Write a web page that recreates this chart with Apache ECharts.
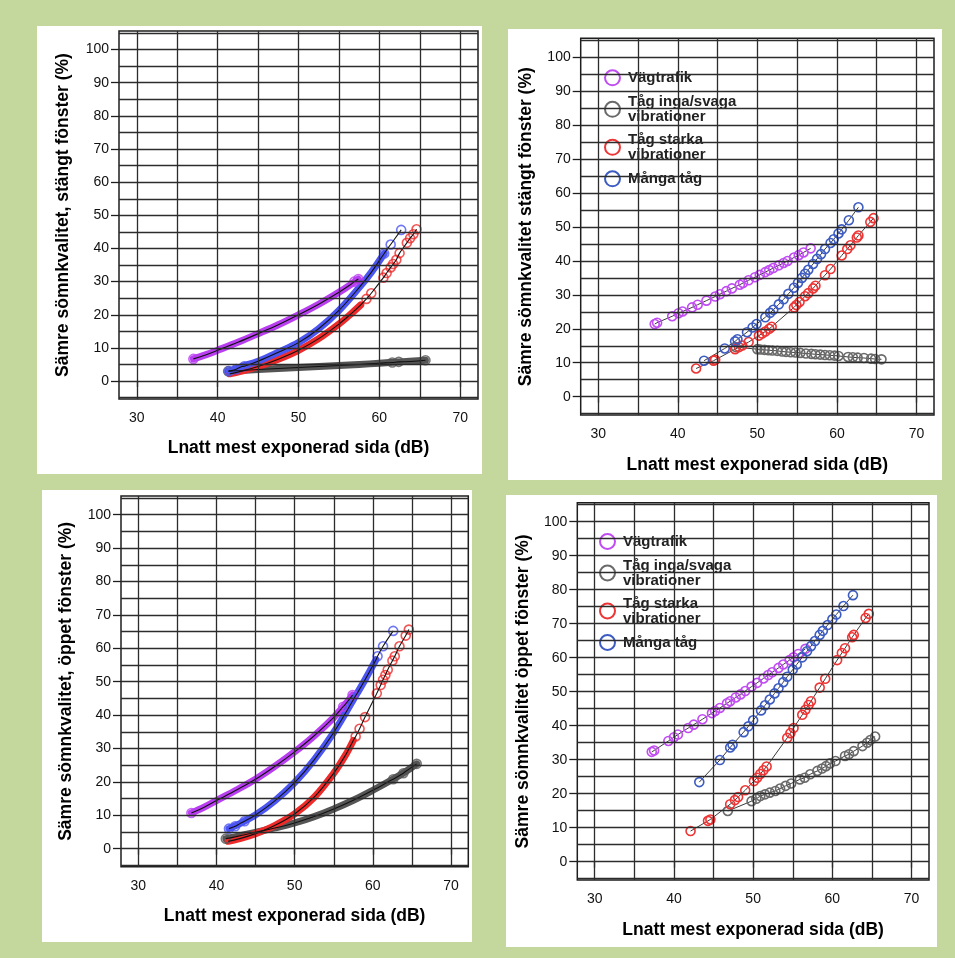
<!DOCTYPE html>
<html>
<head>
<meta charset="utf-8">
<script src="https://cdn.jsdelivr.net/npm/echarts@6/dist/echarts.min.js"></script>
<style>
  html, body { margin: 0; padding: 0; background: #c4d79c; }
  body { width: 955px; height: 958px; position: relative; overflow: hidden; }
  .panel { position: absolute; background: #ffffff; }
</style>
</head>
<body>
<div id="p1" class="panel" style="left:37px;top:26px;width:445px;height:448px"></div>
<div id="p2" class="panel" style="left:508px;top:29px;width:434px;height:451px"></div>
<div id="p3" class="panel" style="left:42px;top:490px;width:430px;height:452px"></div>
<div id="p4" class="panel" style="left:506px;top:495px;width:431px;height:452px"></div>
<script>
// ---- axes ----
const xTickValues = [30, 40, 50, 60, 70];
const yTickValues = [0, 10, 20, 30, 40, 50, 60, 70, 80, 90, 100];
const gridXValues = [30, 35, 40, 45, 50, 55, 60, 65, 70];
const gridYValues = [-5, 0, 5, 10, 15, 20, 25, 30, 35, 40, 45, 50, 55, 60, 65, 70, 75, 80, 85, 90, 95, 100, 105];
const X_MIN = 27.8, X_MAX = 72.2, Y_MIN = -5.4, Y_MAX = 105.6;

const xTitle = 'Lnatt mest exponerad sida (dB)';
const yTitle1 = 'Sämre sömnkvalitet, stängt fönster (%)';
const yTitle2 = 'Sämre sömnkvalitet stängt fönster (%)';
const yTitle3 = 'Sämre sömnkvalitet, öppet fönster (%)';
const yTitle4 = 'Sämre sömnkvalitet öppet fönster (%)';

const legendNames = ['Vägtrafik', 'Tåg inga/svaga\nvibrationer', 'Tåg starka\nvibrationer', 'Många tåg'];

// ---- closed window, fitted curves (dense band + separate points) ----
const p1RoadBand = [[37.0,6.7],[38.5,7.9],[40.0,9.3],[42.5,11.7],[45.0,14.3],[47.5,17.0],[50.0,20.0],[52.5,23.2],[55.0,26.8],[56.5,29.2],[57.4,30.8]];
const p1RoadDots = [[37.0,6.7],[56.9,30.0],[57.4,30.8]];
const p1WeakBand = [[41.3,3.0],[43.0,3.2],[45.0,3.5],[47.5,3.8],[50.0,4.1],[52.5,4.4],[55.0,4.7],[57.5,5.0],[60.0,5.4],[62.5,5.8],[65.7,6.3]];
const p1WeakDots = [[41.3,3.0],[61.6,5.6],[62.4,5.8],[65.7,6.3]];
const p1StrongBand = [[41.5,2.2],[43.0,3.0],[45.0,4.4],[47.5,6.6],[50.0,9.3],[52.5,12.8],[55.0,17.2],[56.5,20.3],[57.7,23.0]];
const p1StrongDots = [[58.4,24.8],[59.0,26.5],[60.5,31.2],[60.9,32.6],[61.4,34.3],[61.7,35.3],[62.1,36.6],[62.5,38.6],[63.4,41.7],[63.8,43.1],[64.2,44.3],[64.6,45.8]];
const p1ManyBand = [[41.4,3.0],[43.0,4.4],[45.0,6.0],[47.5,8.7],[50.0,11.6],[52.5,15.8],[55.0,21.3],[57.5,28.2],[59.0,32.8],[60.6,38.5]];
const p1ManyDots = [[41.4,3.0],[42.3,3.6],[43.3,4.5],[60.6,38.5],[61.4,41.2],[62.7,45.6]];

// ---- open window, fitted curves ----
const p3RoadBand = [[36.8,10.7],[38.5,12.5],[40.0,14.4],[42.5,17.5],[45.0,20.8],[47.5,24.7],[50.0,29.0],[52.5,33.8],[55.0,39.3],[56.5,43.3],[57.4,46.0]];
const p3RoadDots = [[36.8,10.7],[56.2,42.5],[57.4,46.0]];
const p3WeakBand = [[41.2,3.0],[42.5,3.6],[45.0,4.9],[47.5,6.2],[50.0,7.7],[52.5,9.6],[55.0,11.9],[57.5,14.5],[60.0,17.5],[62.5,20.7],[64.0,22.8],[65.6,25.4]];
const p3WeakDots = [[41.2,3.0],[62.6,20.8],[63.9,22.6],[65.6,25.4]];
const p3StrongBand = [[41.5,2.2],[43.0,3.0],[45.0,4.5],[47.5,7.0],[50.0,10.4],[52.5,15.4],[55.0,22.6],[56.5,28.0],[57.5,32.4]];
const p3StrongDots = [[57.8,33.6],[58.3,35.9],[59.0,39.4],[60.5,46.5],[61.0,49.0],[61.3,50.6],[61.6,52.0],[61.9,53.6],[62.5,56.3],[62.8,57.6],[63.4,60.6],[64.2,63.8],[64.6,65.6]];
const p3ManyBand = [[41.6,6.0],[43.0,7.5],[45.0,10.1],[47.5,14.4],[50.0,19.8],[52.5,26.6],[55.0,34.8],[57.5,44.6],[59.0,50.6],[60.4,56.6]];
const p3ManyDots = [[41.6,6.0],[42.4,6.7],[43.6,8.2],[60.6,57.6],[61.3,60.6],[62.6,65.2]];

// ---- closed window, per group ----
const p2Road = [[37.1,21.4],[37.4,21.8],[39.3,23.7],[40.1,24.6],[40.6,25.1],[41.8,26.3],[42.5,27.1],[43.6,28.3],[44.7,29.5],[45.3,30.2],[46.1,31.1],[46.8,31.9],[47.8,33.0],[48.2,33.5],[48.9,34.3],[49.7,35.2],[50.3,35.9],[51.0,36.7],[51.5,37.3],[52.0,37.9],[52.7,38.7],[53.3,39.4],[53.8,40.0],[54.6,41.0],[55.2,41.7],[55.8,42.5],[56.7,43.7]];
const p2Weak = [[47.3,14.6],[50.0,14.0],[50.4,13.9],[50.9,13.8],[51.4,13.7],[51.9,13.6],[52.5,13.5],[53.1,13.3],[53.6,13.2],[54.2,13.1],[54.8,13.0],[55.4,12.9],[56.1,12.7],[56.8,12.6],[57.3,12.5],[57.9,12.4],[58.5,12.3],[59.1,12.2],[59.7,12.1],[60.2,12.0],[61.4,11.7],[62.0,11.6],[62.6,11.5],[63.4,11.4],[64.3,11.2],[64.8,11.1],[65.6,11.0]];
const p2Strong = [[42.3,8.3],[44.5,10.6],[44.7,10.9],[47.2,14.0],[47.7,14.6],[48.1,15.1],[48.9,16.1],[50.2,18.0],[50.6,18.6],[51.0,19.2],[51.5,20.0],[51.8,20.6],[54.6,26.3],[54.9,27.0],[55.3,27.9],[56.0,29.6],[56.4,30.5],[57.0,31.9],[57.3,32.7],[58.5,35.8],[59.2,37.6],[60.6,41.6],[61.3,43.5],[61.7,44.6],[62.5,46.9],[62.7,47.5],[64.2,51.5],[64.6,52.6]];
const p2Many = [[43.3,10.6],[45.9,14.2],[47.2,16.3],[47.5,16.9],[48.7,19.0],[49.4,20.4],[49.9,21.4],[51.0,23.4],[51.6,24.7],[52.0,25.6],[52.7,27.2],[53.3,28.7],[53.9,30.3],[54.6,32.1],[55.1,33.5],[55.6,35.0],[56.0,36.2],[56.4,37.4],[57.0,39.1],[57.5,40.6],[58.0,42.0],[58.5,43.5],[59.2,45.3],[59.6,46.4],[60.2,48.1],[60.6,49.3],[61.5,52.0],[62.7,55.8]];

// ---- open window, per group ----
const p4Road = [[37.2,32.3],[37.5,32.7],[39.3,35.5],[40.0,36.6],[40.5,37.4],[41.8,39.3],[42.5,40.3],[43.6,41.9],[44.8,43.7],[45.2,44.3],[45.8,45.2],[46.7,46.6],[47.1,47.2],[47.8,48.3],[48.4,49.2],[49.0,50.2],[49.8,51.5],[50.5,52.6],[51.3,53.9],[51.9,54.9],[52.4,55.7],[53.2,57.0],[53.8,58.0],[54.6,59.3],[55.1,60.1],[55.7,61.1],[56.6,62.6]];
const p4Weak = [[46.8,14.9],[49.8,17.8],[50.4,18.5],[50.9,19.3],[51.5,19.8],[52.1,20.3],[52.8,20.8],[53.4,21.5],[54.1,22.3],[54.8,23.0],[55.9,24.2],[56.5,24.7],[57.2,25.7],[58.1,26.7],[58.7,27.4],[59.2,28.1],[59.7,28.9],[60.4,29.6],[61.6,31.1],[62.1,31.6],[62.7,32.5],[63.8,34.0],[64.4,35.0],[64.8,35.8],[65.4,36.8]];
const p4Strong = [[42.1,9.0],[44.3,12.0],[44.6,12.4],[47.1,16.9],[47.7,18.1],[48.1,19.0],[49.0,21.0],[50.1,23.7],[50.5,24.7],[50.9,25.8],[51.3,26.9],[51.7,28.0],[54.3,36.4],[54.7,37.8],[55.1,39.3],[56.2,43.2],[56.6,44.7],[57.0,46.1],[57.3,47.2],[58.4,51.2],[59.1,53.8],[60.6,59.3],[61.2,61.4],[61.6,62.8],[62.5,66.0],[62.7,66.7],[64.2,71.7],[64.6,72.9]];
const p4Many = [[43.2,23.4],[45.8,29.9],[47.1,33.6],[47.4,34.4],[48.8,38.1],[49.4,39.8],[50.0,41.6],[51.0,44.5],[51.5,46.0],[52.1,47.7],[52.7,49.5],[53.2,51.0],[53.8,52.8],[54.3,54.4],[55.0,56.5],[55.5,58.0],[56.2,60.1],[56.8,61.9],[57.3,63.4],[57.8,64.9],[58.4,66.7],[58.8,67.9],[59.4,69.6],[60.0,71.3],[60.5,72.7],[61.4,75.2],[62.6,78.4]];

// ---- styling ----
const FONT = "'Liberation Sans', Arial, Helvetica, sans-serif";
const INK = '#1e1e1e';
const bandColors = { road: '#b93ef2', weak: '#555555', strong: '#ee2a2a', many: '#4b55f2' };
const groupColors = ['#c04cf2', '#6a6a6a', '#ee3535', '#3d5cc2'];

function hollow(c) {
  return { color: 'rgba(255,255,255,0)', borderColor: c, borderWidth: 1.6 };
}

function mergeByX(a, b) {
  const m = new Map();
  a.concat(b).forEach(p => { if (!m.has(p[0])) m.set(p[0], p); });
  return Array.from(m.values()).sort((p, q) => p[0] - q[0]);
}

function gridLines() {
  return {
    type: 'line', data: [], silent: true, z: 1,
    markLine: {
      silent: true, animation: false, symbol: ['none', 'none'],
      label: { show: false }, emphasis: { disabled: true },
      lineStyle: { color: '#2c2c2c', width: 1.3, type: 'solid' },
      data: gridXValues.map(v => ({ xAxis: v })).concat(gridYValues.map(v => ({ yAxis: v })))
    }
  };
}

function baseOption(g, yName, xGap, yGap) {
  return {
    animation: false,
    textStyle: { fontFamily: FONT },
    grid: { left: g[0], top: g[1], width: g[2], height: g[3], show: true, borderColor: INK, borderWidth: 1.5, backgroundColor: 'transparent' },
    xAxis: {
      type: 'value', min: X_MIN, max: X_MAX,
      splitLine: { show: false }, axisLine: { show: false },
      axisTick: { show: true, length: 6, customValues: xTickValues, lineStyle: { color: INK, width: 1.3 } },
      axisLabel: { customValues: xTickValues, margin: 12, fontSize: 14, color: '#111', fontFamily: FONT },
      name: xTitle, nameLocation: 'middle', nameGap: xGap,
      nameTextStyle: { fontSize: 17.5, fontWeight: 'bold', color: '#000', fontFamily: FONT }
    },
    yAxis: {
      type: 'value', min: Y_MIN, max: Y_MAX,
      splitLine: { show: false }, axisLine: { show: false },
      axisTick: { show: true, length: 8, customValues: yTickValues, lineStyle: { color: INK, width: 1.3 } },
      axisLabel: { customValues: yTickValues, margin: 10, fontSize: 14, color: '#111', fontFamily: FONT },
      name: yName, nameLocation: 'middle', nameGap: yGap,
      nameTextStyle: { fontSize: 17.5, fontWeight: 'bold', color: '#000', fontFamily: FONT }
    },
    series: [gridLines()]
  };
}

// fitted curve: coloured band of overlapping points, separate points, thin fit line
function curveSeries(band, dots, c) {
  return [
    { type: 'line', data: band, smooth: 0.35, symbol: 'none', z: 2, silent: true,
      lineStyle: { color: c, width: 7, cap: 'round', join: 'round' } },
    { type: 'scatter', data: dots, symbol: 'circle', symbolSize: 9, z: 3, silent: true, itemStyle: hollow(c) },
    { type: 'line', data: mergeByX(band, dots), smooth: 0.35, symbol: 'none', z: 4, silent: true,
      lineStyle: { color: '#111', width: 1.1 } }
  ];
}

function groupSeries(name, data, c) {
  return { name: name, type: 'line', data: data, symbol: 'circle', symbolSize: 9, z: 3, silent: true,
    itemStyle: hollow(c), lineStyle: { color: '#3a3a3a', width: 1 } };
}

function legendFor(left, top) {
  return {
    orient: 'vertical', left: left, top: top, padding: [12, 8, 6, 5], itemGap: 8,
    itemWidth: 15, itemHeight: 15, icon: 'circle', backgroundColor: '#ffffff', selectedMode: false,
    textStyle: { fontFamily: FONT, fontWeight: 'bold', fontSize: 15, lineHeight: 15, color: '#222', padding: [0, 0, 0, 3] },
    data: legendNames.map((n, i) => ({ name: n, itemStyle: { color: '#ffffff', borderColor: groupColors[i], borderWidth: 2 } }))
  };
}

// panel 1
const o1 = baseOption([82, 5, 359, 368], yTitle1, 40, 47);
o1.series = o1.series.concat(
  curveSeries(p1WeakBand, p1WeakDots, bandColors.weak),
  curveSeries(p1RoadBand, p1RoadDots, bandColors.road),
  curveSeries(p1StrongBand, p1StrongDots, bandColors.strong),
  curveSeries(p1ManyBand, p1ManyDots, bandColors.many)
);

// panel 2
const o2 = baseOption([72.7, 9.3, 353.3, 376.7], yTitle2, 41.5, 46);
o2.legend = legendFor(91, 28.3);
o2.series = o2.series.concat(
  groupSeries(legendNames[1], p2Weak, groupColors[1]),
  groupSeries(legendNames[0], p2Road, groupColors[0]),
  groupSeries(legendNames[2], p2Strong, groupColors[2]),
  groupSeries(legendNames[3], p2Many, groupColors[3])
);

// panel 3
const o3 = baseOption([79, 6, 347.3, 370.7], yTitle3, 40, 45.5);
o3.series = o3.series.concat(
  curveSeries(p3WeakBand, p3WeakDots, bandColors.weak),
  curveSeries(p3RoadBand, p3RoadDots, bandColors.road),
  curveSeries(p3StrongBand, p3StrongDots, bandColors.strong),
  curveSeries(p3ManyBand, p3ManyDots, bandColors.many)
);

// panel 4
const o4 = baseOption([71.3, 7.7, 351.7, 377.3], yTitle4, 41, 45);
o4.legend = legendFor(88, 26);
o4.series = o4.series.concat(
  groupSeries(legendNames[1], p4Weak, groupColors[1]),
  groupSeries(legendNames[0], p4Road, groupColors[0]),
  groupSeries(legendNames[2], p4Strong, groupColors[2]),
  groupSeries(legendNames[3], p4Many, groupColors[3])
);

[['p1', o1], ['p2', o2], ['p3', o3], ['p4', o4]].forEach(([id, opt]) => {
  const chart = echarts.init(document.getElementById(id), null, { renderer: 'canvas' });
  chart.setOption(opt);
});
</script>
</body>
</html>
